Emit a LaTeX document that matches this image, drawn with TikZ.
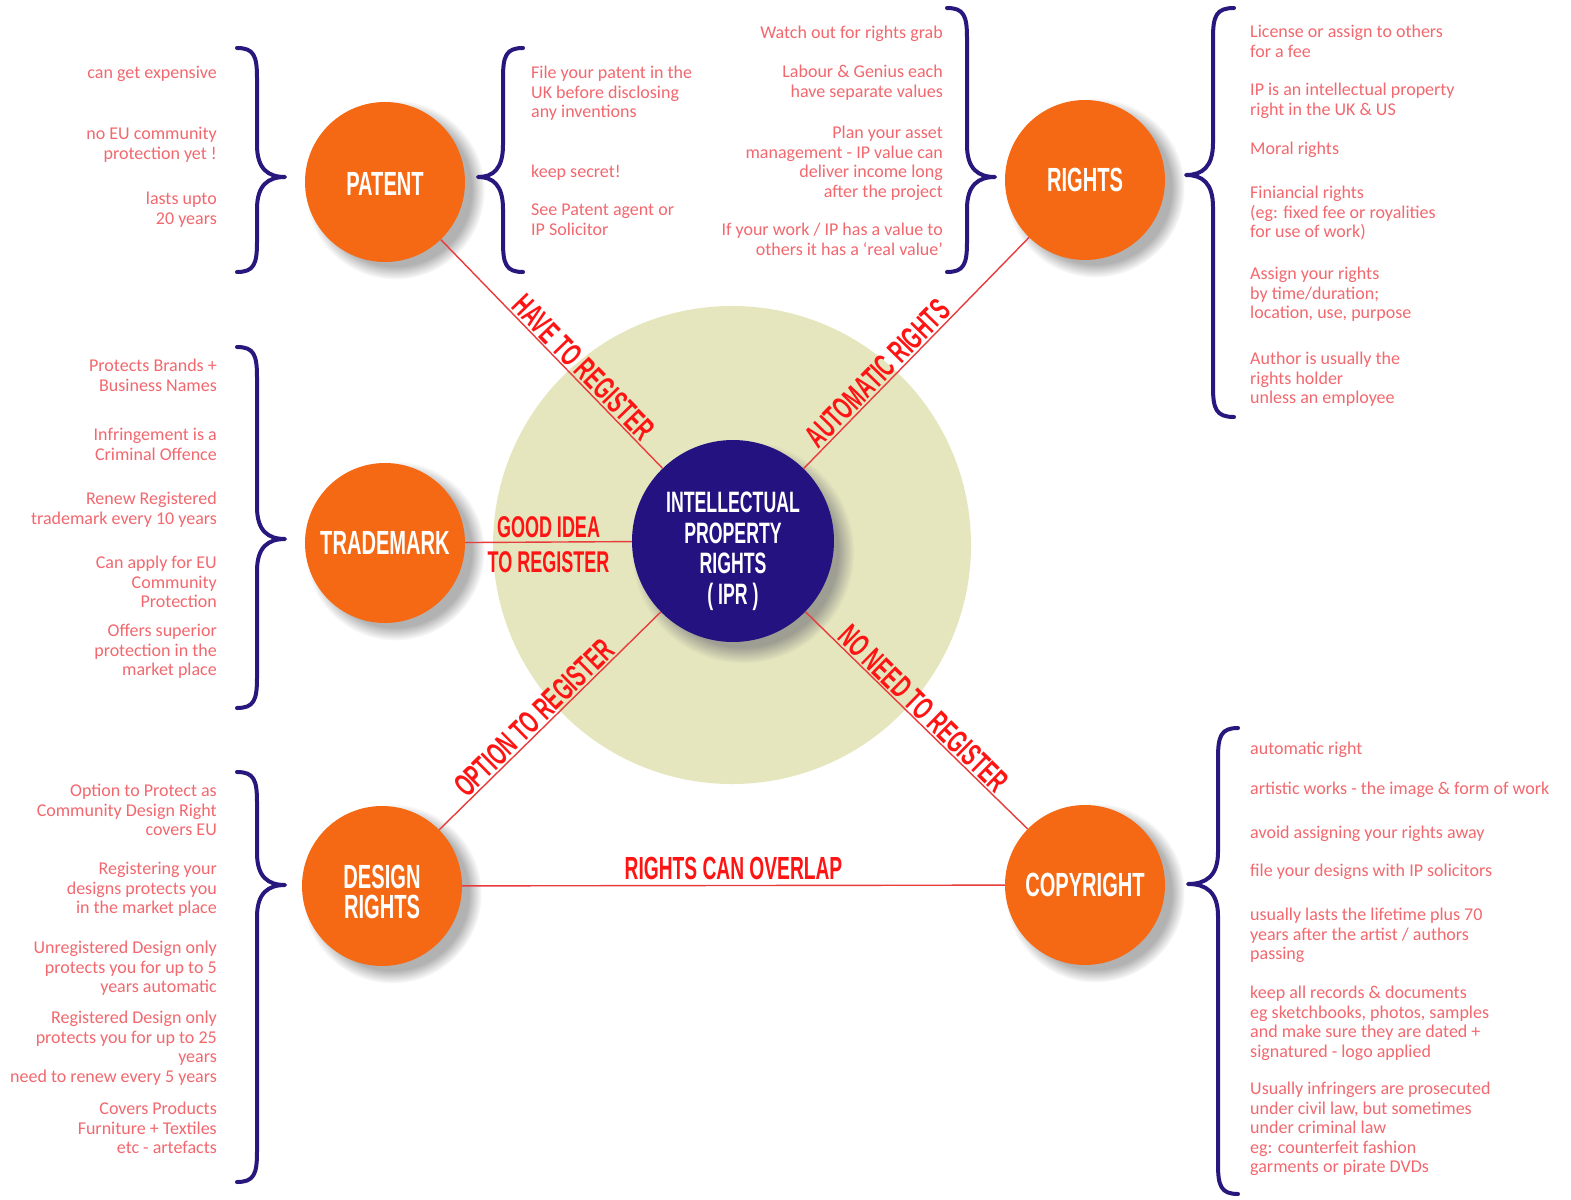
\documentclass[tikz,border=0pt]{standalone}
\usepackage{fontspec}
\setmainfont{Carlito}
\newfontfamily\condf[FakeStretch=0.6]{Liberation Sans}
\newfontfamily\bodyf{Carlito}
\usetikzlibrary{shadows,calc}
\definecolor{orng}{RGB}{245,105,20}
\definecolor{navy}{RGB}{36,18,128}
\definecolor{beige}{RGB}{229,230,190}
\definecolor{lred}{RGB}{232,60,60}
\definecolor{lblred}{RGB}{255,20,20}
\definecolor{txtred}{RGB}{242,104,110}
\definecolor{brc}{RGB}{40,24,125}
\tikzset{
 topic/.style={circle, fill=orng, minimum size=160pt, inner sep=0pt, text=white,
   font=\condf\bfseries\fontsize{33.5}{30}\selectfont, align=center,
   circular drop shadow={shadow xshift=9pt, shadow yshift=-7pt, shadow scale=1.12, opacity=0.6}},
 hub/.style={circle, fill=navy, minimum size=202pt, inner sep=0pt,
   circular drop shadow={shadow xshift=9pt, shadow yshift=-10pt, shadow scale=1.1, opacity=0.7}},
 conn/.style={draw=lred, line width=1.4pt},
 lbl/.style={text=lblred, font=\condf\bfseries\fontsize{32}{32}\selectfont, inner sep=1.5pt},
 note/.style={text=txtred, font=\bodyf\fontsize{18}{19.5}\selectfont, inner sep=0pt, yshift=-2pt},
 nl/.style={note, anchor=north east, align=right},
 nr/.style={note, anchor=north west, align=left},
 bracestyle/.style={draw=brc, line width=4pt, line cap=round, line join=round}
}
\newcommand{\brc}[6]{%
 \draw[bracestyle] (#1,#4) .. controls ({#1+0.85*(#2-#1)},#4) and (#2,{#4+8}) .. (#2,{#4+30})
 -- (#2,{#5-32}) .. controls (#2,{#5-8}) and ({#2+0.4*(#3-#2)},#5) .. (#3,#5)
 .. controls ({#2+0.4*(#3-#2)},#5) and (#2,{#5+8}) .. (#2,{#5+32})
 -- (#2,{#6-30}) .. controls (#2,{#6-8}) and ({#1+0.85*(#2-#1)},#6) .. (#1,#6);}
\begin{document}
\begin{tikzpicture}[x=1pt,y=-1pt]
\useasboundingbox[fill=white] (0,0) rectangle (1571,1199);
% halo
\node[circle, fill=beige, minimum size=478pt, inner sep=0pt] (halo) at (732,545) {};
% topics
\node[topic, text height=27pt, text depth=0pt] (patent) at (385,182) {PATENT};
\node[topic] (rights) at (1085,180) {RIGHTS};
\node[topic] (trademark) at (385,543) {TRADEMARK};
\node[topic, label={[text=white, font=\condf\bfseries\fontsize{33.5}{30}\selectfont, align=center, yshift=-5.5pt]center:{DESIGN\\RIGHTS}}] (design) at (382,886) {};
\node[topic] (copyright) at (1085,885) {COPYRIGHT};
\node[hub, label={[text=white, font=\condf\bfseries\fontsize{29.5}{30.5}\selectfont, align=center, yshift=-10.5pt]center:{INTELLECTUAL\\PROPERTY\\RIGHTS\\( IPR )}}] (ipr) at (733,541) {};
% connectors
\draw[conn] (patent) -- (ipr) node[lbl, sloped, above, pos=0.6] (l1) {HAVE TO REGISTER};
\draw[conn] (ipr) -- (rights) node[lbl, sloped, above, pos=0.37] (l2) {AUTOMATIC RIGHTS};
\draw[conn] (trademark) -- (ipr)
  node[lbl, above, midway, font=\condf\bfseries\fontsize{30}{30}\selectfont, inner sep=4pt] (l3) {GOOD IDEA}
  node[lbl, below, midway, font=\condf\bfseries\fontsize{30}{30}\selectfont, inner sep=8.5pt] (l4) {TO REGISTER};
\draw[conn] (design) -- (ipr) node[lbl, sloped, above, pos=0.47] (l5) {OPTION TO REGISTER};
\draw[conn] (ipr) -- (copyright) node[lbl, sloped, above, pos=0.49] (l6) {NO NEED TO REGISTER};
\draw[conn] (design) -- (copyright) node[lbl, above=3pt, midway] (l7) {RIGHTS CAN OVERLAP};
% braces
\brc{237}{257}{285}{48}{177}{272}
\brc{523}{503}{478}{48}{177}{272}
\brc{947}{967}{995}{8}{177}{272}
\brc{1234}{1213}{1186}{8}{175}{417}
\brc{237}{257}{285}{347}{539}{708}
\brc{237}{257}{285}{772}{885}{1182}
\brc{1238}{1218}{1188}{728}{884}{1194}
% patent notes
\node[nl] (pa1) at (217,64) {can get expensive};
\node[nl] (pa2) at (217,125) {no EU community\\protection yet !};
\node[nl] (pa3) at (217,190) {lasts upto\\20 years};
\node[nr] (pb1) at (531,64) {File your patent in the\\UK before disclosing\\any inventions};
\node[nr] (pb2) at (531,163) {keep secret!};
\node[nr] (pb3) at (531,202) {See Patent agent or\\IP Solicitor};
% rights notes left
\node[nl] (ra1) at (943,24) {Watch out for rights grab};
\node[nl] (ra2) at (943,63) {Labour \& Genius each\\have separate values};
\node[nl] (ra3) at (943,124) {Plan your asset\\management - IP value can\\deliver income long\\after the project};
\node[nl] (ra4) at (943,221) {If your work / IP has a value to\\others it has a ‘real value’};
% rights notes right
\node[nr] (rb1) at (1250,23) {License or assign to others\\for a fee};
\node[nr] (rb2) at (1250,81) {IP is an intellectual property\\right in the UK \& US};
\node[nr] (rb3) at (1250,140) {Moral rights};
\node[nr] (rb4) at (1250,184) {Finiancial rights\\(eg: fixed fee or royalities\\for use of work)};
\node[nr] (rb5) at (1250,265) {Assign your rights\\by time/duration;\\location, use, purpose};
\node[nr] (rb6) at (1250,350) {Author is usually the\\rights holder\\unless an employee};
% trademark notes
\node[nl] (ta1) at (217,357) {Protects Brands +\\Business Names};
\node[nl] (ta2) at (217,426) {Infringement is a\\Criminal Offence};
\node[nl] (ta3) at (217,490) {Renew Registered\\trademark every 10 years};
\node[nl] (ta4) at (217,554) {Can apply for EU\\Community\\Protection};
\node[nl] (ta5) at (217,622) {Offers superior\\protection in the\\market place};
% design notes
\node[nl] (da1) at (217,782) {Option to Protect as\\Community Design Right\\covers EU};
\node[nl] (da2) at (217,860) {Registering your\\designs protects you\\in the market place};
\node[nl] (da3) at (217,939) {Unregistered Design only\\protects you for up to 5\\years automatic};
\node[nl] (da4) at (217,1009) {Registered Design only\\protects you for up to 25\\years\\need to renew every 5 years};
\node[nl] (da5) at (217,1100) {Covers Products\\Furniture + Textiles\\etc - artefacts};
% copyright notes
\node[nr] (ca1) at (1250,740) {automatic right};
\node[nr] (ca2) at (1250,780) {artistic works - the image \& form of work};
\node[nr] (ca3) at (1250,824) {avoid assigning your rights away};
\node[nr] (ca4) at (1250,862) {file your designs with IP solicitors};
\node[nr] (ca5) at (1250,906) {usually lasts the lifetime plus 70\\years after the artist / authors\\passing};
\node[nr] (ca6) at (1250,984) {keep all records \& documents\\eg sketchbooks, photos, samples\\and make sure they are dated +\\signatured - logo applied};
\node[nr] (ca7) at (1250,1080) {Usually infringers are prosecuted\\under civil law, but sometimes\\under criminal law\\eg: counterfeit fashion\\garments or pirate DVDs};
\end{tikzpicture}
\end{document}
